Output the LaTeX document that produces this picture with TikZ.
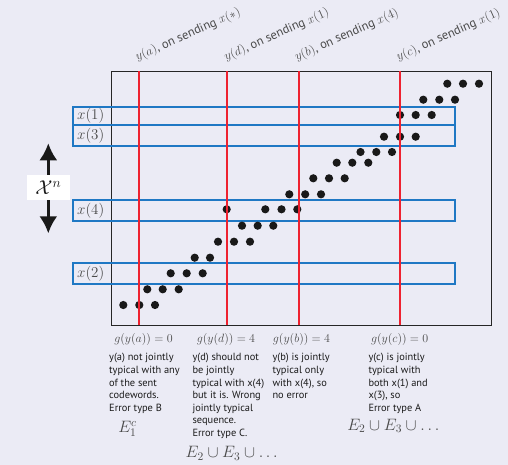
\documentclass[tikz,border=0pt]{standalone}
\usepackage{fix-cm}
\usepackage{fontspec}
\newfontfamily\bodyfont{PT Sans}
\usetikzlibrary{arrows.meta}
\definecolor{bg}{HTML}{EBEBF5}
\definecolor{redl}{HTML}{EE2230}
\definecolor{bluel}{HTML}{1F78C4}
\definecolor{graytxt}{HTML}{4A4A4A}
\definecolor{bodytxt}{HTML}{1A1A1A}
\begin{document}
\begin{tikzpicture}[x=1pt,y=-1pt,
  toplab/.style={font=\bodyfont\fontsize{12.5}{14}\selectfont, text=graytxt, inner sep=0pt, rotate=24, anchor=base west},
  cwlab/.style={font=\fontsize{15}{16}\selectfont, text=graytxt, inner sep=0pt, anchor=west},
  glab/.style={font=\fontsize{12}{14}\selectfont, text=graytxt, inner sep=0pt},
  body/.style={font=\bodyfont\fontsize{10.4}{12.6}\selectfont, text=bodytxt, inner sep=0pt, anchor=north west, align=left},
  elab/.style={font=\fontsize{16.5}{18}\selectfont, text=graytxt, inner sep=0pt},
  cwbox/.style={draw=bluel, line width=1.8pt},
  rline/.style={draw=redl, line width=1.8pt},
  dot/.style={fill=black!90}
]
\fill[bg] (0,0) rectangle (508,465);
\useasboundingbox (0,0) rectangle (508,465);

% main frame
\draw[black!85, line width=0.9pt] (111,71) rectangle (491.5,325);

% codeword boxes
\draw[cwbox] (73.3,106.7) rectangle (455,125.3);
\draw[cwbox] (73.3,125.3) rectangle (455,146);
\draw[cwbox] (73.3,200) rectangle (455,220.7);
\draw[cwbox] (73.3,263.3) rectangle (455,284);
\node[cwlab] (x1) at (77,116) {$x(1)$};
\node[cwlab] (x3) at (77,135.6) {$x(3)$};
\node[cwlab] (x4) at (77,210.3) {$x(4)$};
\node[cwlab] (x2) at (77,273.7) {$x(2)$};

% dots
\foreach \yy/\xs in {305/{123.3,139.3,155},
  289.3/{147.3,162.7,178.7},
  273.3/{170.7,186.7,202.7},
  257.7/{194.7,210},
  241.7/{218,234,250},
  225.7/{242,257.7,273.3},
  209.3/{226.7,265.3,281.5,297.3},
  194.3/{289.3,305.2,321},
  178.3/{313.3,329,344.7},
  162.7/{336.7,352.3,368.3},
  152/{360.5,376.3,392},
  136.7/{384,400,415.7},
  115/{400,415.7,431.7},
  99.7/{423.3,439.3,455},
  83.7/{447.3,463,479}}{
  \foreach \xx in \xs { \fill[dot] (\xx,\yy) circle (4.1pt); }
}

% red receive lines
\coordinate (ta) at (139,71);   \coordinate (ba) at (139,325);
\coordinate (td) at (227.3,71); \coordinate (bd) at (227.3,325);
\coordinate (tb) at (298.7,71); \coordinate (bb) at (298.7,325);
\coordinate (tc) at (400.3,71); \coordinate (bc) at (400.3,325);
\draw[rline] (ta) -- (ba);
\draw[rline] (td) -- (bd);
\draw[rline] (tb) -- (bb);
\draw[rline] (tc) -- (bc);

% top labels
\node[toplab] (la) at (137.3,61) {$y(a)$, on sending $x(*)$};
\node[toplab] (ld) at (226,61) {$y(d)$, on sending $x(1)$};
\node[toplab] (lb) at (296.7,61) {$y(b)$, on sending $x(4)$};
\node[toplab] (lc) at (398.3,61) {$y(c)$, on sending $x(1)$};

% X^n arrow
\coordinate (xt) at (48.3,143.3);
\coordinate (xb) at (48.3,233.3);
\draw[line width=2.6pt, black!90, {Latex[length=17pt,width=18pt]}-{Latex[length=17pt,width=18pt]}] (xt) -- (xb);
\node[fill=white, minimum width=43pt, minimum height=25pt, inner sep=0pt,
  font=\fontsize{20}{22}\selectfont, text=black!90] (xn) at (48.3,187.5) {$\mathcal{X}^n$};

% decoder outputs
\node[glab] (ga) at (143.5,339) {$g(y(a))=0$};
\node[glab] (gd) at (226,339) {$g(y(d))=4$};
\node[glab] (gb) at (301.5,339) {$g(y(b))=4$};
\node[glab] (gc) at (399.7,339) {$g(y(c))=0$};

% explanations
\node[body] (ta1) at (109,353.3) {y(a) not jointly\\typical with any\\of the sent\\codewords.\\Error type B};
\node[body] (td1) at (192.3,353.3) {y(d) should not\\be jointly\\typical with x(4)\\but it is. Wrong\\jointly typical\\sequence.\\Error type C.};
\node[body] (tb1) at (272.3,353.3) {y(b) is jointly\\typical only\\with x(4), so\\no error};
\node[body] (tc1) at (368.3,353.3) {y(c) is jointly\\typical with\\both x(1) and\\x(3), so\\Error type A};

% events
\node[elab] (ea) at (127.5,429) {$E_1^c$};
\node[elab] (ed) at (231.7,453.3) {$E_2\cup E_3\cup\ldots$};
\node[elab] (ec) at (393.3,426) {$E_2\cup E_3\cup\ldots$};
\end{tikzpicture}
\end{document}
